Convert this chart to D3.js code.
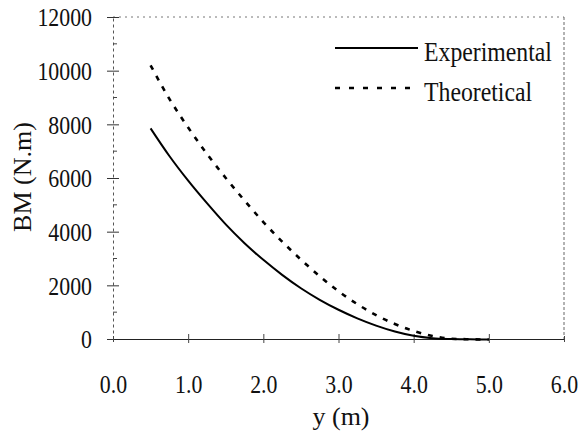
<!DOCTYPE html>
<html>
<head>
<meta charset="utf-8">
<script src="https://cdn.jsdelivr.net/npm/d3@7"></script>
<style>
  html, body { margin: 0; padding: 0; background: #fff; }
  svg { display: block; }
  text { font-family: "Liberation Serif", "Times New Roman", serif; fill: #111; }
</style>
</head>
<body>
<svg id="chart" width="582" height="434"></svg>
<script>
// ---- data ----
const positions = [0.5, 0.75, 1.0, 1.25, 1.5, 1.75, 2.0, 2.25, 2.5, 2.75, 3.0, 3.25, 3.5, 3.75, 4.0, 4.25, 4.5, 4.75, 5.0];
const experimental = [7850, 6820, 5900, 5060, 4270, 3570, 2950, 2390, 1890, 1460, 1090, 770, 500, 280, 120, 30, 0, -10, -20];
const theoretical = [10200, 8950, 7880, 6900, 6000, 5160, 4360, 3630, 2960, 2340, 1780, 1300, 890, 560, 300, 110, 10, -10, -20];
const xTicks = [0, 1, 2, 3, 4, 5, 6];
const yTicks = [0, 2000, 4000, 6000, 8000, 10000, 12000];
const yMinorTicks = [1000, 3000, 5000, 7000, 9000, 11000];
const seriesNames = ["Experimental", "Theoretical"];
const xTitle = "y (m)";
const yTitle = "BM (N.m)";

(function () {
// ---- layout ----
const svg = d3.select("#chart");
const pLeft = 113, pRight = 564, pTop = 17, pBottom = 339;
const x = d3.scaleLinear().domain([0, 6]).range([pLeft, pRight]);
const y = d3.scaleLinear().domain([0, 12000]).range([pBottom, pTop]);
const squeeze = 0.84;

// frame (dotted, as in the scan)
svg.append("line").attr("x1", pLeft).attr("x2", pRight).attr("y1", pTop).attr("y2", pTop)
  .attr("stroke", "#777").attr("stroke-width", 1).attr("stroke-dasharray", "2,4");
svg.append("line").attr("x1", pRight).attr("x2", pRight).attr("y1", pTop).attr("y2", pBottom)
  .attr("stroke", "#666").attr("stroke-width", 1).attr("stroke-dasharray", "3,2");

// y axis
const yAxis = d3.axisLeft(y).tickValues(yTicks).tickSizeInner(5).tickSizeOuter(0).tickPadding(0)
  .tickFormat(d3.format("d"));
const gy = svg.append("g").attr("transform", `translate(${pLeft},0)`).call(yAxis);
gy.select(".domain").attr("stroke", "#555").attr("stroke-dasharray", "3,3");
gy.selectAll(".tick line").attr("x1", -6).attr("x2", 6).attr("stroke", "#333");
gy.selectAll(".tick text")
  .attr("x", null).attr("dy", "0.34em")
  .attr("transform", `translate(-21,0) scale(${squeeze},1)`)
  .style("font-size", "26px").attr("fill", "#111");
svg.append("g").selectAll("line").data(yMinorTicks).join("line")
  .attr("x1", pLeft).attr("x2", pLeft + 4).attr("y1", d => y(d)).attr("y2", d => y(d))
  .attr("stroke", "#444");

// x axis
const xAxis = d3.axisBottom(x).tickValues(xTicks).tickSizeInner(4).tickSizeOuter(0).tickPadding(0)
  .tickFormat(d3.format(".1f"));
const gx = svg.append("g").attr("transform", `translate(0,${pBottom})`).call(xAxis);
gx.select(".domain").attr("stroke", "#222").attr("stroke-width", 1.2);
gx.selectAll(".tick line").attr("y1", -5).attr("y2", 4).attr("stroke", "#444");
gx.selectAll(".tick line").filter(d => d === 0 || d === 6).attr("y1", -3).attr("y2", 3);
gx.selectAll(".tick text")
  .attr("y", null).attr("dy", null)
  .attr("transform", `translate(0,54) scale(${squeeze},1)`)
  .style("font-size", "26px").attr("fill", "#111");

// titles
svg.append("text").attr("x", 341).attr("y", 425).attr("text-anchor", "middle")
  .style("font-size", "26px").text(xTitle);
svg.append("text").attr("transform", "translate(31,177) rotate(-90)").attr("text-anchor", "middle")
  .style("font-size", "26px").text(yTitle);

// lines
const line = d3.line().x((d, i) => x(positions[i])).y(d => y(d)).curve(d3.curveMonotoneX);
svg.append("path").datum(theoretical).attr("d", line).attr("fill", "none")
  .attr("stroke", "#000").attr("stroke-width", 2.6).attr("stroke-dasharray", "5,7");
svg.append("path").datum(experimental).attr("d", line).attr("fill", "none")
  .attr("stroke", "#000").attr("stroke-width", 2);

// legend
const legend = svg.append("g");
const legRows = [
  { name: seriesNames[0], ly: 48, base: 61, dash: null, w: 2.2 },
  { name: seriesNames[1], ly: 88, base: 101, dash: "5,9", w: 2.6 }
];
legRows.forEach(r => {
  legend.append("line").attr("x1", 335).attr("x2", 418).attr("y1", r.ly).attr("y2", r.ly)
    .attr("stroke", "#000").attr("stroke-width", r.w).attr("stroke-dasharray", r.dash);
  legend.append("text").attr("transform", `translate(424,${r.base}) scale(0.88,1)`)
    .style("font-size", "27px").text(r.name);
});
})();
</script>
</body>
</html>
